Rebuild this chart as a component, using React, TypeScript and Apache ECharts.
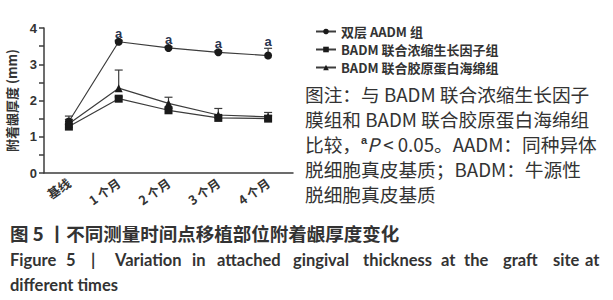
import React, { useEffect, useRef } from "react";
import * as echarts from "echarts";

const categories = ["基线", "1 个月", "2 个月", "3 个月", "4 个月"];
const aadmMean = [1.42, 3.62, 3.45, 3.33, 3.24];
const aadmErr = [0.15, 0.04, 0.04, 0.04, 0.2];
const cgfMean = [1.28, 2.05, 1.73, 1.52, 1.5];
const cgfErr = [0.06, 0.05, 0.05, 0.06, 0.08];
const colMean = [1.36, 2.34, 1.92, 1.6, 1.55];
const colErr = [0.12, 0.5, 0.17, 0.18, 0.12];
const aadmSig = ["", "a", "a", "a", "a"];
const seriesNames = ["双层 AADM 组", "BADM 联合浓缩生长因子组", "BADM 联合胶原蛋白海绵组"];
const yTicks = [0, 1, 2, 3, 4];

const noteLines = [
  "图注：与 BADM 联合浓缩生长因子",
  "膜组和 BADM 联合胶原蛋白海绵组",
  "{n|比较，}{sup|a}{it|P}{n| < 0.05。AADM：同种异体}",
  "脱细胞真皮基质；BADM：牛源性",
  "脱细胞真皮基质",
];
const captionCn = "图 5 丨不同测量时间点移植部位附着龈厚度变化";
const captionEn1Words = ["Figure", "5", "|", "Variation", "in", "attached", "gingival", "thickness", "at", "the", "graft", "site", "at"];
const captionEn2 = "different times";

// layout: left edges of the justified English caption words
const EN_WORD_X = [10, 66, 91, 115, 192, 217, 293, 363, 441, 464, 503, 553, 585];

const LINE = "#3c3c3c";
const TEXT = "#333333";
const CJK = '"Noto Sans CJK SC", "Noto Sans", sans-serif';
const EN_FONT = "bold 16.5px Lato, sans-serif";

function errSeries(mean: number[], err: number[], sig?: string[]) {
  return {
    type: "custom",
    z: 1,
    silent: true,
    data: mean.map((m, i) => [i, m, err[i]]),
    renderItem: (params: any, api: any) => {
      const idx = api.value(0);
      const m = api.value(1);
      const e = api.value(2);
      const s = sig ? sig[idx] : "";
      const p0 = api.coord([idx, m]);
      const p1 = api.coord([idx, m + e]);
      const cap = 4;
      const children: any[] = [
        { type: "line", shape: { x1: p0[0], y1: p0[1], x2: p1[0], y2: p1[1] }, style: { stroke: LINE, lineWidth: 1.2 } },
        { type: "line", shape: { x1: p1[0] - cap, y1: p1[1], x2: p1[0] + cap, y2: p1[1] }, style: { stroke: LINE, lineWidth: 1.2 } },
      ];
      if (s) {
        children.push({
          type: "text",
          style: {
            text: s, x: p1[0], y: p1[1] - 7, align: "center", verticalAlign: "middle",
            fill: "#2a3550", font: 'bold 13px "Liberation Sans", sans-serif',
          },
        });
      }
      return { type: "group", children };
    },
  };
}

export default function App() {
  const ref = useRef<HTMLDivElement>(null);
  useEffect(() => {
    const chart = echarts.init(ref.current!, undefined, { renderer: "svg" });
    const lineSeries = (name: string, data: number[], symbol: string, size: number) => ({
      name, type: "line", data, symbol, symbolSize: size, z: 3,
      lineStyle: { color: LINE, width: 1.2 },
      itemStyle: { color: "#1a1a1a" },
    });
    chart.setOption({
      animation: false,
      grid: { left: 44, right: 320, top: 28, bottom: 127 },
      legend: {
        orient: "vertical", left: 310, top: 20, itemGap: 5, itemWidth: 20, itemHeight: 7,
        data: seriesNames,
        textStyle: { color: TEXT, fontSize: 13, fontWeight: "bold", fontFamily: CJK },
      },
      xAxis: {
        type: "category", data: categories, boundaryGap: true,
        axisLine: { lineStyle: { color: LINE, width: 1.5 } },
        axisTick: { alignWithLabel: true, length: 5, lineStyle: { color: LINE, width: 1.5 } },
        axisLabel: { rotate: 35, margin: 8, color: TEXT, fontSize: 12.5, fontWeight: "bold", fontFamily: CJK },
      },
      yAxis: {
        type: "value", min: 0, max: 4, interval: 0.5,
        name: "附着龈厚度 (mm)", nameLocation: "middle", nameGap: 26, nameRotate: 90,
        nameTextStyle: { color: TEXT, fontSize: 13, fontWeight: "bold", fontFamily: CJK },
        splitLine: { show: false },
        axisLine: { show: true, lineStyle: { color: LINE, width: 1.5 } },
        axisTick: { show: true, length: 5, lineStyle: { color: LINE, width: 1.5 } },
        axisLabel: {
          color: TEXT, fontSize: 13, fontWeight: "bold", margin: 7, fontFamily: '"Liberation Sans", sans-serif',
          formatter: (v: number) => (yTicks.includes(v) ? String(v) : ""),
        },
      },
      series: [
        errSeries(aadmMean, aadmErr, aadmSig),
        errSeries(cgfMean, cgfErr),
        errSeries(colMean, colErr),
        lineSeries(seriesNames[0], aadmMean, "circle", 8),
        lineSeries(seriesNames[1], cgfMean, "rect", 8),
        lineSeries(seriesNames[2], colMean, "triangle", 8),
      ],
      graphic: [
        ...noteLines.map((t, i) => ({
          type: "text", left: 305, top: 84 + i * 25,
          style: {
            text: t, fill: TEXT, font: `18.7px ${CJK}`,
            rich: {
              n: { fontSize: 18.7, fontFamily: "Noto Sans CJK SC", fill: TEXT },
              sup: { fontSize: 11, fontWeight: "bold", fill: TEXT, verticalAlign: "top", padding: [0, 0, 8, 0] },
              it: { fontSize: 18.7, fontStyle: "italic", fontFamily: "Noto Sans CJK SC", fill: TEXT },
            },
          },
        })),
        {
          type: "text",
          style: { text: captionCn, x: 10, y: 233, verticalAlign: "middle", fill: TEXT, font: `bold 18.5px ${CJK}` },
        },
        ...captionEn1Words.map((w, i) => ({
          type: "text",
          style: { text: w, x: EN_WORD_X[i], y: 260, verticalAlign: "middle", fill: TEXT, font: EN_FONT },
        })),
        {
          type: "text",
          style: { text: captionEn2, x: 10, y: 285, verticalAlign: "middle", fill: TEXT, font: EN_FONT },
        },
      ],
    });
    return () => chart.dispose();
  }, []);
  return <div ref={ref} style={{ position: "absolute", left: 0, top: 0, width: 613, height: 300 }} />;
}
